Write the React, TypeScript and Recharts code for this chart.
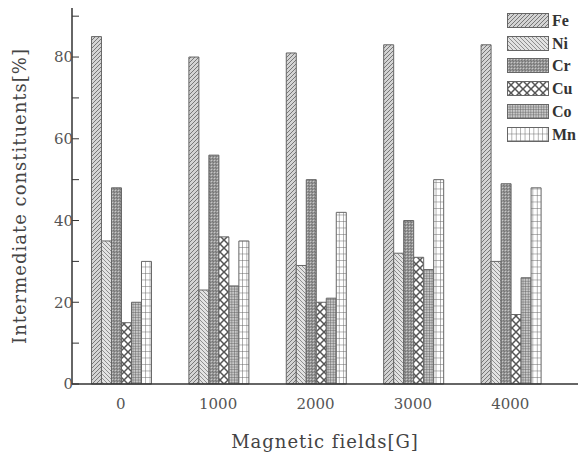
import { BarChart, Bar, XAxis, YAxis, Legend } from 'recharts';

const fields = ['0', '1000', '2000', '3000', '4000'];
const elements = ['Fe', 'Ni', 'Cr', 'Cu', 'Co', 'Mn'];

const fe = [85, 80, 81, 83, 83];
const ni = [35, 23, 29, 32, 30];
const cr = [48, 56, 50, 40, 49];
const cu = [15, 36, 20, 31, 17];
const co = [20, 24, 21, 28, 26];
const mn = [30, 35, 42, 50, 48];

const yTicks = [0, 10, 20, 30, 40, 50, 60, 70, 80, 90];

const data = fields.map((f, i) => ({
  field: f,
  Fe: fe[i],
  Ni: ni[i],
  Cr: cr[i],
  Cu: cu[i],
  Co: co[i],
  Mn: mn[i],
}));

const serif = '"DejaVu Serif", serif';
const axisColor = '#333';

function Patterns() {
  return (
    <defs>
      <pattern id="pat-Fe" width="4" height="4" patternUnits="userSpaceOnUse">
        <rect width="4" height="4" fill="#d4d4d4" />
        <path d="M-1,1 l2,-2 M0,4 l4,-4 M3,5 l2,-2" stroke="#777" strokeWidth="1" />
      </pattern>
      <pattern id="pat-Ni" width="4" height="4" patternUnits="userSpaceOnUse">
        <rect width="4" height="4" fill="#e2e2e2" />
        <path d="M-1,3 l2,2 M0,0 l4,4 M3,-1 l2,2" stroke="#8e8e8e" strokeWidth="1" />
      </pattern>
      <pattern id="pat-Cr" width="3" height="3" patternUnits="userSpaceOnUse">
        <rect width="3" height="3" fill="#8e8e8e" />
        <circle cx="1.5" cy="1.5" r="0.8" fill="#c8c8c8" />
        <circle cx="0" cy="0" r="0.7" fill="#4a4a4a" />
        <circle cx="3" cy="3" r="0.7" fill="#4a4a4a" />
      </pattern>
      <pattern id="pat-Cu" width="8" height="8" patternUnits="userSpaceOnUse">
        <rect width="8" height="8" fill="#fff" />
        <path d="M0,0 L8,8 M8,0 L0,8" stroke="#555" strokeWidth="1.5" />
      </pattern>
      <pattern id="pat-Co" width="2.6" height="2.6" patternUnits="userSpaceOnUse">
        <rect width="2.6" height="2.6" fill="#c8c8c8" />
        <path d="M0,0 H2.6 M0,0 V2.6" stroke="#5e5e5e" strokeWidth="0.9" />
      </pattern>
      <pattern id="pat-Mn" width="4.4" height="6.5" patternUnits="userSpaceOnUse">
        <rect width="4.4" height="6.5" fill="#fff" />
        <path d="M0,0 H4.4 M0,0 V6.5" stroke="#666" strokeWidth="1" />
      </pattern>
    </defs>
  );
}

function LegendBox() {
  return (
    <div style={{ display: 'flex', flexDirection: 'column' }}>
      {elements.map((name) => (
        <div key={name} style={{ display: 'flex', alignItems: 'center', height: 22.8 }}>
          <svg width={42} height={15} style={{ display: 'block' }}>
            <rect x={0.5} y={0.5} width={41} height={14} fill={`url(#pat-${name})`} stroke="#666" />
          </svg>
          <span
            style={{
              marginLeft: 3,
              fontFamily: '"Liberation Serif", serif',
              fontWeight: 'bold',
              fontSize: 16,
              color: '#333',
              lineHeight: '15px',
            }}
          >
            {name}
          </span>
        </div>
      ))}
    </div>
  );
}

export default function App() {
  return (
    <div style={{ position: 'absolute', left: 0, top: 0, background: '#fff' }}>
      <BarChart
        width={585}
        height={452}
        data={data}
        margin={{ top: 8, right: 7, left: 0, bottom: 0 }}
        barCategoryGap="20%"
        barGap={0}
      >
        <Patterns />
        <XAxis
          dataKey="field"
          height={68}
          padding={{ left: 0, right: 19 }}
          tickLine={false}
          axisLine={{ stroke: axisColor, strokeWidth: 1.5 }}
          tick={{ fill: '#555', fontFamily: serif, fontSize: 15 }}
          tickMargin={8}
          label={{
            value: 'Magnetic fields[G]',
            position: 'insideBottom',
            offset: 4,
            fill: '#444',
            fontFamily: serif,
            fontSize: 18,
            letterSpacing: 1,
          }}
        />
        <XAxis
          xAxisId="top"
          dataKey="field"
          orientation="top"
          height={0}
          tick={false}
          tickLine={false}
          axisLine={{ stroke: axisColor, strokeWidth: 1.5 }}
        />
        <YAxis
          width={72}
          domain={[0, 92]}
          ticks={yTicks}
          interval={0}
          tickSize={-7}
          tickMargin={6}
          tickLine={{ stroke: axisColor }}
          axisLine={{ stroke: axisColor, strokeWidth: 1.5 }}
          tickFormatter={(v: number) => (v % 20 === 0 ? String(v) : '')}
          tick={{ fill: '#555', fontFamily: serif, fontSize: 15 }}
          label={{
            value: 'Intermediate constituents[%]',
            angle: -90,
            position: 'insideLeft',
            offset: 20,
            fill: '#444',
            fontFamily: serif,
            fontSize: 18,
            letterSpacing: 1,
            style: { textAnchor: 'middle' },
          }}
        />
        <YAxis
          yAxisId="right"
          orientation="right"
          width={0}
          domain={[0, 92]}
          tick={false}
          tickLine={false}
          axisLine={{ stroke: axisColor, strokeWidth: 1.5 }}
        />
        <Legend
          layout="vertical"
          align="center"
          verticalAlign="middle"
          content={() => <LegendBox />}
          wrapperStyle={{ top: 9, left: 507, right: 'auto', bottom: 'auto', width: 78 }}
        />
        {elements.map((name) => (
          <Bar
            key={name}
            dataKey={name}
            fill={`url(#pat-${name})`}
            stroke="#666"
            strokeWidth={1}
            isAnimationActive={false}
          />
        ))}
      </BarChart>
    </div>
  );
}
